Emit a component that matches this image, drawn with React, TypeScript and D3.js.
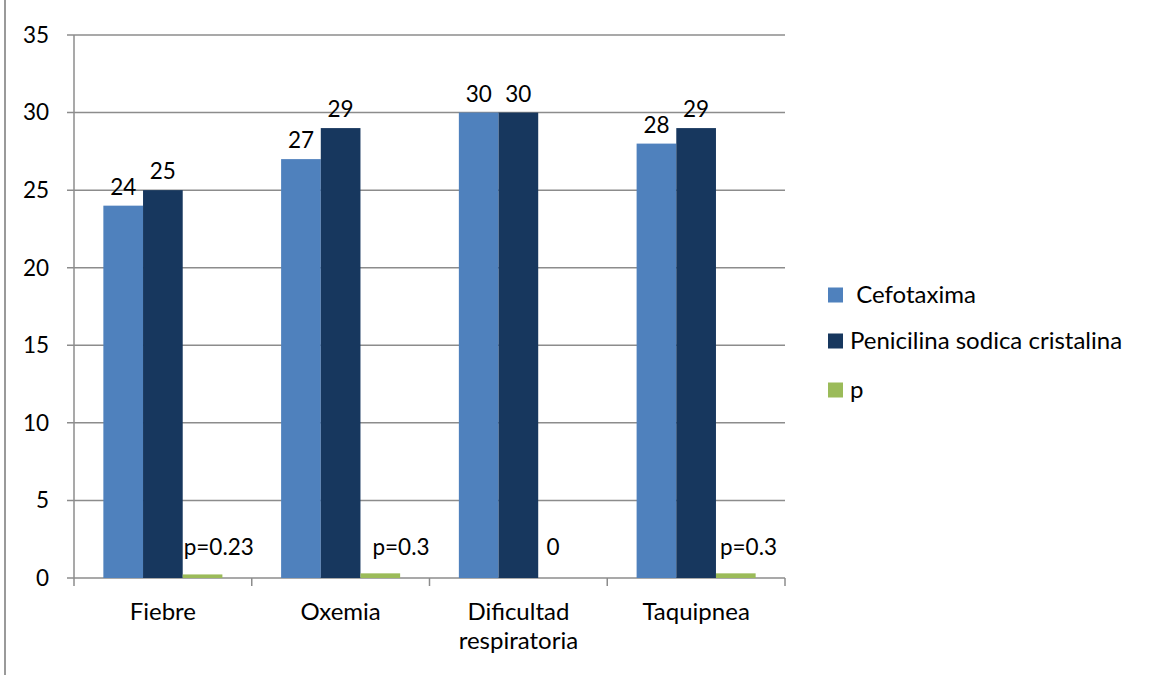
import React from "react";
import * as d3 from "d3";

const categories = ["Fiebre", "Oxemia", "Dificultad respiratoria", "Taquipnea"];
const seriesNames = [" Cefotaxima", "Penicilina sodica cristalina", "p"];
const cefotaxima = [24, 27, 30, 28];
const penicilina = [25, 29, 30, 29];
const pValues = [0.23, 0.3, 0, 0.3];
const pLabels = ["p=0.23", "p=0.3", "0", "p=0.3"];
const yTicks = [0, 5, 10, 15, 20, 25, 30, 35];
const colors = ["#4F81BD", "#17375E", "#9BBB59"];

const W = 1149;
const H = 675;
const left = 74;
const right = 785;
const top = 35;
const bottom = 578;
const font = "Lato, 'Open Sans', sans-serif";
const fsNum = 22.5;
const fsText = 24;

export default function App() {
  const x = d3.scaleBand<string>().domain(categories).range([left, right]).paddingInner(0).paddingOuter(0);
  const inner = d3.scaleBand<number>().domain([0, 1, 2]).range([0, x.bandwidth()]).paddingOuter(0.74).paddingInner(0);
  const y = d3.scaleLinear().domain([0, 35]).range([bottom, top]);
  const series = [cefotaxima, penicilina, pValues];
  // manual label shifts for the p labels (as in the source chart)
  const pShift = [1, 12, -8, 4];

  return (
    <svg width={W} height={H} style={{ position: "absolute", left: 0, top: 0, background: "#fff" }}>
      <line x1={5} x2={5} y1={0} y2={H} stroke="#9a9a9a" strokeWidth={2} />
      {yTicks.map((t) => (
        <g key={t}>
          <line x1={left - 7} x2={right} y1={y(t)} y2={y(t)} stroke="#8c8c8c" strokeWidth={1.5} />
          <text x={49} y={y(t)} dy="0.35em" textAnchor="end" fontFamily={font} fontSize={fsNum} fill="#000">
            {t}
          </text>
        </g>
      ))}
      <line x1={left} x2={left} y1={top} y2={bottom + 8} stroke="#8c8c8c" strokeWidth={1.5} />
      {categories.map((c) => (
        <line key={c} x1={x(c)! + x.bandwidth()} x2={x(c)! + x.bandwidth()} y1={bottom} y2={bottom + 8} stroke="#8c8c8c" strokeWidth={1.5} />
      ))}
      {series.map((vals, si) =>
        vals.map((v, ci) => {
          const bx = x(categories[ci])! + inner(si)!;
          return (
            <rect key={`${si}-${ci}`} x={bx} y={y(v)} width={inner.bandwidth()} height={bottom - y(v)} fill={colors[si]} />
          );
        })
      )}
      {[cefotaxima, penicilina].map((vals, si) =>
        vals.map((v, ci) => {
          const bx = x(categories[ci])! + inner(si)! + inner.bandwidth() / 2;
          return (
            <text key={`l${si}-${ci}`} x={bx} y={y(v) - 11} textAnchor="middle" fontFamily={font} fontSize={fsNum} fill="#000">
              {v}
            </text>
          );
        })
      )}
      {pLabels.map((l, ci) => {
        const bx = x(categories[ci])! + inner(2)!;
        const isZero = l === "0";
        return (
          <text
            key={`p${ci}`}
            x={isZero ? bx + inner.bandwidth() / 2 - 5 : bx + pShift[ci]}
            y={555}
            textAnchor={isZero ? "middle" : "start"}
            fontFamily={font}
            fontSize={fsNum}
            fill="#000"
          >
            {l}
          </text>
        );
      })}
      {categories.map((c) => {
        const words = c.split(" ");
        const cx = x(c)! + x.bandwidth() / 2;
        return (
          <text key={`x${c}`} x={cx} y={620} textAnchor="middle" fontFamily={font} fontSize={fsText} fill="#000">
            {words.map((w, wi) => (
              <tspan key={wi} x={cx} dy={wi === 0 ? 0 : 29}>
                {w}
              </tspan>
            ))}
          </text>
        );
      })}
      {seriesNames.map((n, i) => {
        const cy = [295, 341, 390][i];
        return (
          <g key={n}>
            <rect x={828} y={cy - 7.5} width={15} height={15} fill={colors[i]} />
            <text x={850} y={cy} dy="0.35em" fontFamily={font} fontSize={fsText} fill="#000" style={{ whiteSpace: "pre" }}>
              {n}
            </text>
          </g>
        );
      })}
    </svg>
  );
}
